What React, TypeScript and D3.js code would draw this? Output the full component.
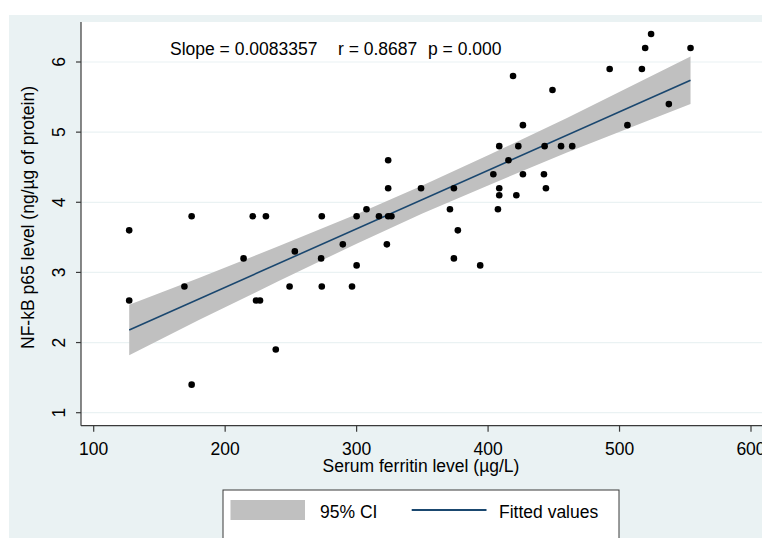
import React from "react";
import * as d3 from "d3";

// Scatter data: serum ferritin (µg/L) vs NF-kB p65 (ng/µg of protein)
const ferritin = [
  127, 127, 169, 174.5, 174.5, 214, 221, 223.5, 226.5, 231, 238.5, 249, 253,
  273.5, 273, 273.5, 289.5, 296.5, 300, 300, 307.5, 317, 323, 324, 324, 324,
  326.5, 349, 371, 374, 374, 377, 394, 404, 408.5, 408.5, 408.5, 407.5, 415.5,
  419, 421.5, 423, 426.5, 426.5, 442.5, 443, 444, 449, 455.5, 464, 492.5, 506,
  517, 519.5, 524, 537.5, 554,
];
const nfkb = [
  3.6, 2.6, 2.8, 3.8, 1.4, 3.2, 3.8, 2.6, 2.6, 3.8, 1.9, 2.8, 3.3, 3.8, 3.2,
  2.8, 3.4, 2.8, 3.8, 3.1, 3.9, 3.8, 3.4, 4.6, 4.2, 3.8, 3.8, 4.2, 3.9, 4.2,
  3.2, 3.6, 3.1, 4.4, 4.8, 4.2, 4.1, 3.9, 4.6, 5.8, 4.1, 4.8, 5.1, 4.4, 4.4,
  4.8, 4.2, 5.6, 4.8, 4.8, 5.9, 5.1, 5.9, 6.2, 6.4, 5.4, 6.2,
];

// Fitted line and 95% CI band
const fitX = [127, 554];
const fitY = [2.18, 5.739];
const ciX = [127, 180, 240, 300, 350, 400, 460, 520, 554];
const ciLow = [1.82, 2.32, 2.87, 3.41, 3.84, 4.24, 4.71, 5.15, 5.4];
const ciHigh = [2.54, 2.92, 3.37, 3.83, 4.24, 4.67, 5.2, 5.76, 6.08];

const xTicks = [100, 200, 300, 400, 500, 600];
const yTicks = [1, 2, 3, 4, 5, 6];

const annotations = ["Slope = 0.0083357", "r = 0.8687", "p = 0.000"];
const legendLabels = ["95% CI", "Fitted values"];
const xTitle = "Serum ferritin level (µg/L)";
const yTitle = "NF-kB p65 level (ng/µg of protein)";

const W = 762;
const H = 538;
const FONT = "'Liberation Sans', Arial, sans-serif";
const FS = 17.5;
const BG = "#eaf2f3";
const NAVY = "#1a476f";
const AXIS = "#3a3a3a";

export default function App() {
  const x = d3.scaleLinear().domain([100, 600]).range([93.7, 751]);
  const y = d3.scaleLinear().domain([1, 6]).range([412.7, 62]);

  const plotL = 81;
  const plotT = 22;
  const plotB = 425.7;

  const band = d3
    .area<number>()
    .x((_, i) => x(ciX[i]))
    .y0((_, i) => y(ciLow[i]))
    .y1((_, i) => y(ciHigh[i]));
  const line = d3
    .line<number>()
    .x((_, i) => x(fitX[i]))
    .y((d) => y(d));

  const annX = [170, 338, 428];

  return (
    <svg
      width={W}
      height={H}
      style={{ position: "absolute", left: 0, top: 0, fontFamily: FONT }}
    >
      <rect x={0} y={0} width={W} height={H} fill="#ffffff" />
      <rect x={9} y={15} width={W - 9} height={H - 15} fill={BG} />
      <rect x={plotL} y={plotT} width={W - plotL} height={plotB - plotT} fill="#ffffff" />

      {yTicks.map((t) => (
        <line key={"g" + t} x1={plotL} x2={W} y1={y(t)} y2={y(t)} stroke={BG} strokeWidth={1.2} />
      ))}

      <path d={band(ciX) || ""} fill="#c0c0c0" stroke="none" />
      <path d={line(fitY) || ""} fill="none" stroke={NAVY} strokeWidth={1.6} />

      {ferritin.map((f, i) => (
        <circle key={"p" + i} cx={x(f)} cy={y(nfkb[i])} r={3.3} fill="#000" />
      ))}

      {/* axes */}
      <line x1={plotL} x2={plotL} y1={plotT} y2={plotB} stroke={AXIS} strokeWidth={1.2} />
      <line x1={plotL} x2={W} y1={plotB} y2={plotB} stroke={AXIS} strokeWidth={1.2} />

      {yTicks.map((t) => (
        <g key={"yt" + t}>
          <line x1={plotL - 5} x2={plotL} y1={y(t)} y2={y(t)} stroke={AXIS} strokeWidth={1.2} />
          <text
            transform={`translate(65,${y(t)}) rotate(-90)`}
            textAnchor="middle"
            fontSize={FS}
            fill="#000"
          >
            {t}
          </text>
        </g>
      ))}
      {xTicks.map((t) => (
        <g key={"xt" + t}>
          <line x1={x(t)} x2={x(t)} y1={plotB} y2={plotB + 6} stroke={AXIS} strokeWidth={1.2} />
          <text x={x(t)} y={455} textAnchor="middle" fontSize={FS} fill="#000">
            {t}
          </text>
        </g>
      ))}

      <text x={421} y={472} textAnchor="middle" fontSize={FS} fill="#000">
        {xTitle}
      </text>
      <text
        transform={`translate(33.5,217.5) rotate(-90)`}
        textAnchor="middle"
        fontSize={FS}
        fill="#000"
      >
        {yTitle}
      </text>

      {annotations.map((a, i) => (
        <text key={"a" + i} x={annX[i]} y={55} fontSize={FS} fill="#000">
          {a}
        </text>
      ))}

      {/* legend */}
      <rect x={223} y={490} width={396} height={60} fill="#ffffff" stroke={AXIS} strokeWidth={1} />
      <rect x={230.5} y={500} width={74.5} height={20} fill="#c0c0c0" />
      <text x={320} y={518} fontSize={FS} fill="#000">
        {legendLabels[0]}
      </text>
      <line x1={411.7} x2={486.5} y1={510} y2={510} stroke={NAVY} strokeWidth={2} />
      <text x={499} y={518} fontSize={FS} fill="#000">
        {legendLabels[1]}
      </text>
    </svg>
  );
}
